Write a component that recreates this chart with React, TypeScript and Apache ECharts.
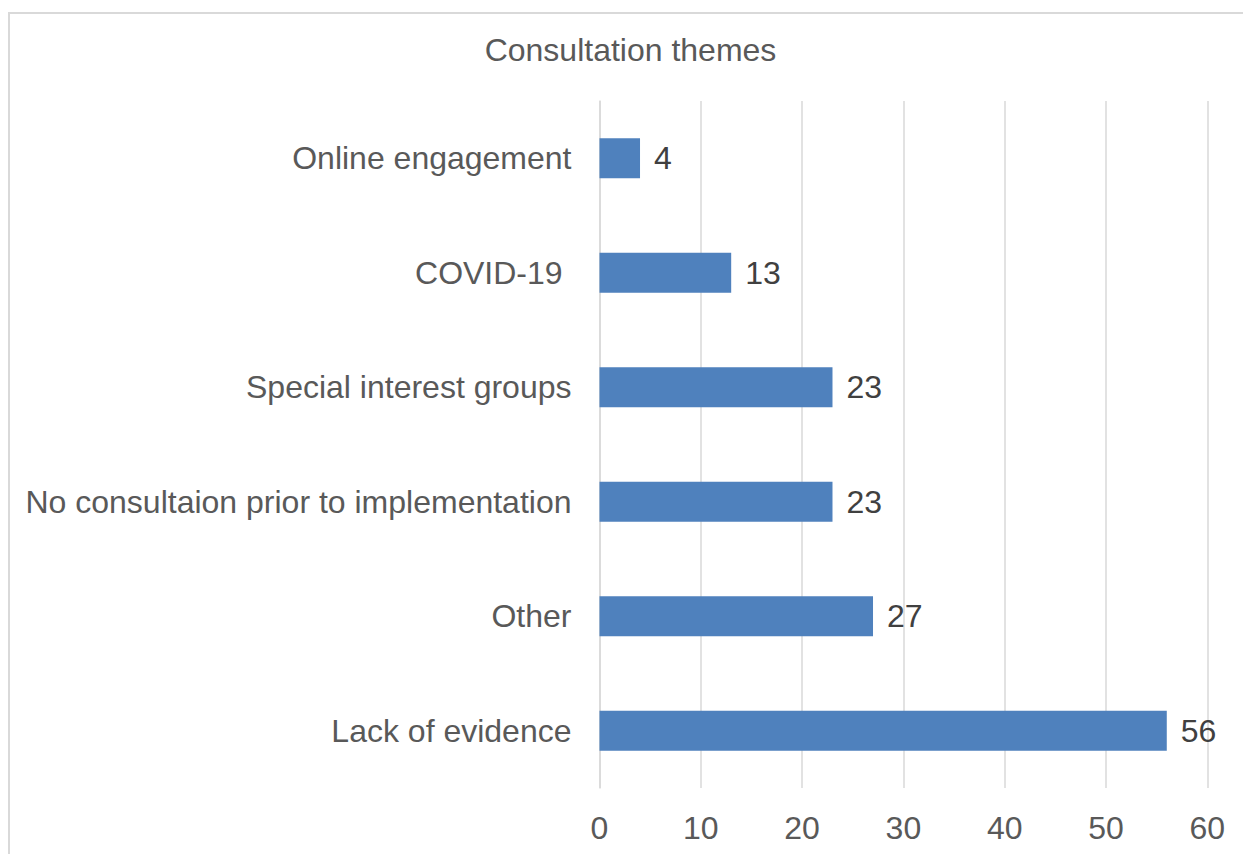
import React, { useEffect, useRef } from "react";
import * as echarts from "echarts";

const titleText = "Consultation themes";
const categories = [
  "Online engagement",
  "COVID-19 ",
  "Special interest groups",
  "No consultaion prior to implementation",
  "Other",
  "Lack of evidence",
];
const values = [4, 13, 23, 23, 27, 56];
const axisMin = 0;
const axisMax = 60;
const axisInterval = 10;

export default function App() {
  const ref = useRef<HTMLDivElement>(null);
  useEffect(() => {
    if (!ref.current) return;
    const chart = echarts.init(ref.current, null, { renderer: "svg" });
    const font = "Liberation Sans, Arial, sans-serif";
    chart.setOption({
      animation: false,
      backgroundColor: "#ffffff",
      graphic: [
        {
          type: "rect",
          shape: { x: 9, y: 13, width: 1260, height: 900 },
          style: { fill: "none", stroke: "#d9d9d9", lineWidth: 2 },
          silent: true,
        },
        {
          type: "text",
          x: 630.5,
          y: 50,
          style: {
            text: titleText,
            fill: "#595959",
            fontSize: 32,
            fontFamily: font,
            align: "center",
            verticalAlign: "middle",
          },
          silent: true,
        },
      ],
      grid: { left: 599.5, right: 35.7, top: 101, bottom: 66 },
      xAxis: {
        type: "value",
        min: axisMin,
        max: axisMax,
        interval: axisInterval,
        axisLine: { show: false },
        axisTick: { show: false },
        splitLine: { show: true, lineStyle: { color: "#d9d9d9", width: 1.5 } },
        axisLabel: { color: "#595959", fontSize: 32, fontFamily: font, margin: 24 },
      },
      yAxis: {
        type: "category",
        data: categories,
        inverse: true,
        axisLine: { show: true, lineStyle: { color: "#d9d9d9", width: 1.5 } },
        axisTick: { show: false },
        axisLabel: { color: "#595959", fontSize: 32, fontFamily: font, margin: 28 },
      },
      series: [
        {
          type: "bar",
          data: values,
          barWidth: 40,
          itemStyle: { color: "#4f81bd" },
          label: {
            show: true,
            position: "right",
            distance: 14,
            color: "#404040",
            fontSize: 32,
            fontFamily: font,
          },
        },
      ],
    });
    return () => chart.dispose();
  }, []);
  return (
    <div
      ref={ref}
      style={{ position: "absolute", left: 0, top: 0, width: 1243, height: 854 }}
    />
  );
}
